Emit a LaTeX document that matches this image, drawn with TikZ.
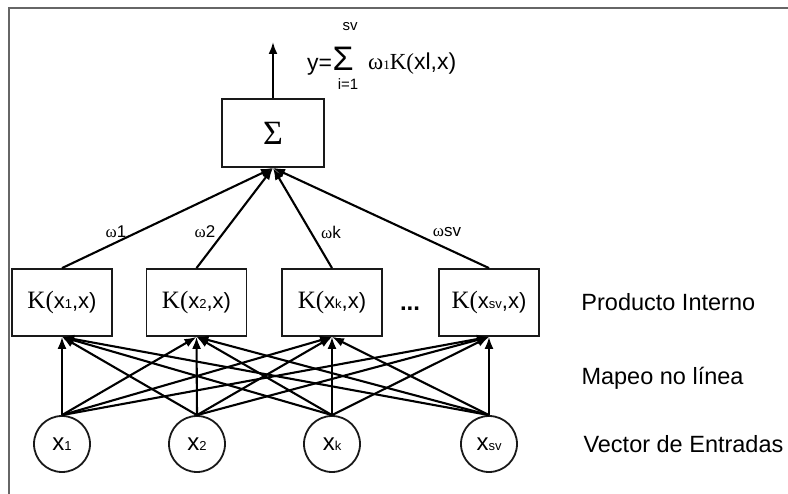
\documentclass[tikz,border=0pt]{standalone}
\usepackage{fontspec}
\setmainfont{Liberation Sans}
\newfontfamily\serifrm{Liberation Serif}
\usetikzlibrary{positioning,arrows.meta}
\newcommand{\smsub}[1]{{\fontsize{13}{13}\selectfont #1}}
\tikzset{
    kernel-box/.style = {draw=black!90, line width=1.8pt, rectangle, minimum width=100pt, minimum height=67pt, inner sep=0pt, font=\fontsize{22}{26}\selectfont},
    input-circle/.style = {draw=black!90, line width=1.8pt, circle, minimum size=56pt, inner sep=0pt, font=\fontsize{24}{26}\selectfont},
    layer-label/.style = {anchor=west, font=\fontsize{23.5}{26}\selectfont},
    weight-label/.style = {inner sep=1pt, font=\fontsize{17}{18}\selectfont},
    formula/.style = {inner sep=0pt, font=\fontsize{23}{26}\selectfont},
    limit-label/.style = {inner sep=0pt, font=\fontsize{15}{16}\selectfont},
    link/.style = {line width=2.1pt, -{Latex[length=12pt,width=9pt]}},
}

\begin{document}
\begin{tikzpicture}[x=1pt, y=-1pt]
\useasboundingbox (0,0) rectangle (788,494);
% frame
\draw[line width=2pt, black!60] (9,494) -- (9,8.5) -- (788,8.5);

% summation node and output
\node[kernel-box, minimum width=102pt, minimum height=68pt] (sum) at (273,133) {\serifrm\fontsize{34}{34}\selectfont Σ};
\coordinate (out) at (273,42);
\draw[link] (sum.north) -- (out);
\node[formula, anchor=base west] (yeq) at (307,71) {y=\hspace{0.5pt}{\fontsize{34}{34}\selectfont Σ}};
\node[limit-label] (upper) at (350,27) {sv};
\node[limit-label] (lower) at (348,84) {i=1};
\node[formula, anchor=base west] (term) at (368,70) {{\serifrm ω\smsub{1}K(}xl,x)};

% kernel layer
\node[kernel-box] (k1) at (62,302.5) {{\serifrm\fontsize{25}{25}\selectfont K(}x\smsub{1},x)};
\node[kernel-box] (k2) at (196.5,302.5) {{\serifrm\fontsize{25}{25}\selectfont K(}x\smsub{2},x)};
\node[kernel-box] (kk) at (332,302.5) {{\serifrm\fontsize{25}{25}\selectfont K(}x\smsub{k},x)};
\node[kernel-box] (ksv) at (489,302.5) {{\serifrm\fontsize{25}{25}\selectfont K(}x\smsub{sv},x)};
\node[formula, anchor=base, font=\fontsize{24}{26}\bfseries] (dots) at (410,311) {...};

% input layer
\node[input-circle] (x1) at (62,444) {x\smsub{1}};
\node[input-circle] (x2) at (197,444) {x\smsub{2}};
\node[input-circle] (xk) at (332,444) {x\smsub{k}};
\node[input-circle] (xsv) at (489,444) {x\smsub{sv}};

% connections
\foreach \i in {1,2,k,sv}{
    \foreach \j in {1,2,k,sv}{
        \draw[link] (x\i.north) -- (k\j.south);
    }
    \draw[link] (k\i.north) -- (sum.south);
}

% weights
\node[weight-label] (w1) at (116,232) {{\serifrm ω}1};
\node[weight-label] (w2) at (205,232) {{\serifrm ω}2};
\node[weight-label] (wk) at (331,232) {{\serifrm ω}k};
\node[weight-label] (wsv) at (447,232) {{\serifrm ω}sv};

% layer names
\node[layer-label, right=38pt of ksv] (inner) {Producto Interno};
\node[layer-label] (mapping) at (578,378) {Mapeo no línea};
\node[layer-label] (inputs) at (580,444) {Vector de Entradas};
\end{tikzpicture}
\end{document}
